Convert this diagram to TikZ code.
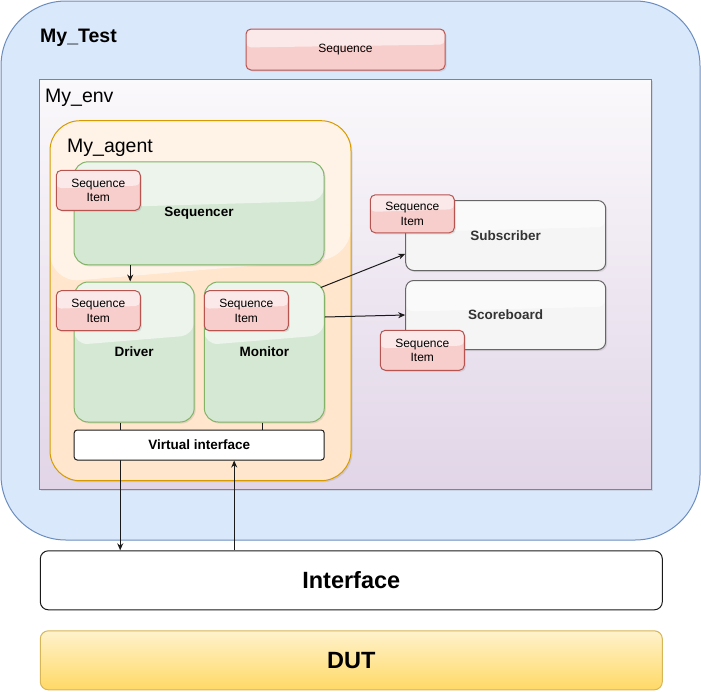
\documentclass[tikz,border=0pt]{standalone}
\usepackage{fontspec}
\setmainfont{Liberation Sans}
\usetikzlibrary{calc,arrows.meta,shadows}
\newcommand{\Unit}{1pt}
\newcommand{\Edge}{1pt}
\definecolor{testfill}{HTML}{DAE8FC}
\definecolor{testline}{HTML}{6C8EBF}
\definecolor{envfill}{HTML}{E1D5E7}
\definecolor{envline}{HTML}{9673A6}
\definecolor{agentfill}{HTML}{FFE6CC}
\definecolor{agentline}{HTML}{D79B00}
\definecolor{unitfill}{HTML}{D5E8D4}
\definecolor{unitline}{HTML}{82B366}
\definecolor{itemfill}{HTML}{F8CECC}
\definecolor{itemline}{HTML}{B85450}
\definecolor{greyfill}{HTML}{F5F5F5}
\definecolor{greyline}{HTML}{666666}
\definecolor{greytext}{HTML}{333333}
\definecolor{dutfill}{HTML}{FFD966}
\definecolor{duttop}{HTML}{FFF2CC}
\definecolor{dutline}{HTML}{D6B656}
\definecolor{ink}{HTML}{1A1A1A}

\tikzset{
  glass/.style={path picture={
    \fill[white,fill opacity=.55]
      (path picture bounding box.north west) -- (path picture bounding box.north east)
      -- ($(path picture bounding box.north east)!.38!(path picture bounding box.south east)$)
      -- ($(path picture bounding box.north west)!.45!(path picture bounding box.south west)$) -- cycle;}},
  shade3d/.style={drop shadow={shadow xshift=1.5pt,shadow yshift=-1.5pt,opacity=.2}},
  box/.style={inner sep=0pt, line width=\Edge, align=center},
  itembox/.style={box, glass, shade3d, fill=itemfill, draw=itemline, rounded corners=5pt,
    minimum width=84pt, minimum height=40pt, font=\fontsize{12}{14.5}\selectfont},
  unitbox/.style={box, glass, shade3d, fill=unitfill, draw=unitline, rounded corners=14pt,
    font=\bfseries\fontsize{13.5}{16}\selectfont},
  greybox/.style={box, glass, shade3d, fill=greyfill, draw=greyline, rounded corners=8pt,
    minimum width=200pt, text=greytext, font=\bfseries\fontsize{13.5}{16}\selectfont},
  title/.style={inner sep=0pt, anchor=base west, font=\fontsize{19.5}{22}\selectfont},
  wire/.style={line width=\Edge, draw=ink, -{Stealth[length=7pt,width=6pt]}},
}

\begin{document}
\begin{tikzpicture}[x=\Unit,y=-\Unit]
  \useasboundingbox (0,0) rectangle (701,691);

  % ---- the test, the env and the agent round it ----------------------------
  \node[box, fill=testfill, draw=testline, rounded corners=65pt,
        minimum width=699pt, minimum height=539pt] (test) at (350.5,270.5) {};
  \node[title, font=\bfseries\fontsize{19.5}{22}\selectfont] (testlbl) at (40,42.5) {My\_Test};
  \node[box, glass, shade3d, fill=itemfill, draw=itemline, rounded corners=5pt,
        minimum width=199pt, minimum height=41pt, font=\fontsize{12}{14.5}\selectfont] (seq) at (345.5,49.5) {Sequence};

  \node[box, shade3d, top color=white!85!envfill, bottom color=envfill, draw=envline,
        minimum width=612pt, minimum height=410pt] (env) at (345.5,284.8) {};
  \node[title] (envlbl) at (45,102) {My\_env};

  \node[box, glass, shade3d, fill=agentfill, draw=agentline, rounded corners=30pt,
        minimum width=301pt, minimum height=360pt] (agent) at (200.5,300.7) {};
  \node[title] (agentlbl) at (67,152) {My\_agent};

  % ---- the units inside ----------------------------------------------------
  \node[unitbox, minimum width=250pt, minimum height=103pt] (sequencer) at (199,213.3) {Sequencer};
  \node[unitbox, minimum width=120pt, minimum height=140pt] (driver) at (134.2,352) {Driver};
  \node[unitbox, minimum width=120pt, minimum height=140pt] (monitor) at (264.3,352) {Monitor};

  \node[greybox, minimum height=70pt] (subscriber) at (505.7,235.5) {Subscriber};
  \node[greybox, minimum height=69pt] (scoreboard) at (505.7,315) {Scoreboard};

  % ---- interface and DUT ---------------------------------------------------
  \node[box, fill=white, draw=ink, rounded corners=8pt, minimum width=622pt, minimum height=59pt,
        font=\bfseries\fontsize{23.5}{26}\selectfont] (iface) at (351.3,580.3) {Interface};
  \node[box, top color=duttop, bottom color=dutfill, draw=dutline, rounded corners=8pt,
        minimum width=622pt, minimum height=59pt,
        font=\bfseries\fontsize{23.5}{26}\selectfont] (dut) at (351.3,660.3) {DUT};

  % the driver line runs behind the virtual interface
  \draw[wire] ([xshift=-14pt]driver.south) -- ([xshift=-14pt]driver.south |- iface.north);
  \node[box, fill=white, draw=ink, rounded corners=3pt, minimum width=250pt, minimum height=30pt,
        font=\bfseries\fontsize{13.5}{16}\selectfont] (vif) at (199.2,445) {Virtual interface};

  \draw[line width=\Edge, draw=ink] ([xshift=-2pt]monitor.south) -- ([xshift=-2pt]monitor.south |- vif.north);
  \draw[wire] ([xshift=35pt]vif.south |- iface.north) -- ([xshift=35pt]vif.south);
  \draw[wire] ([xshift=-4pt]driver.north |- sequencer.south) -- ([xshift=-4pt]driver.north);
  \draw[wire] ([xshift=-4pt,yshift=-6pt]monitor.north east) -- ([yshift=-18.5pt]subscriber.west);
  \draw[wire] ([yshift=35pt]monitor.east) -- (scoreboard.west);

  % ---- the sequence items, on top ------------------------------------------
  \node[itembox] (itemsqr) at (98.3,190.3) {Sequence\\Item};
  \node[itembox] (itemdrv) at (98.3,310.7) {Sequence\\Item};
  \node[itembox] (itemmon) at (246.3,310.7) {Sequence\\Item};
  \node[itembox, minimum height=38pt] (itemsub) at (412.3,213.8) {Sequence\\Item};
  \node[itembox] (itemscb) at (422.3,350.3) {Sequence\\Item};

\end{tikzpicture}
\end{document}
